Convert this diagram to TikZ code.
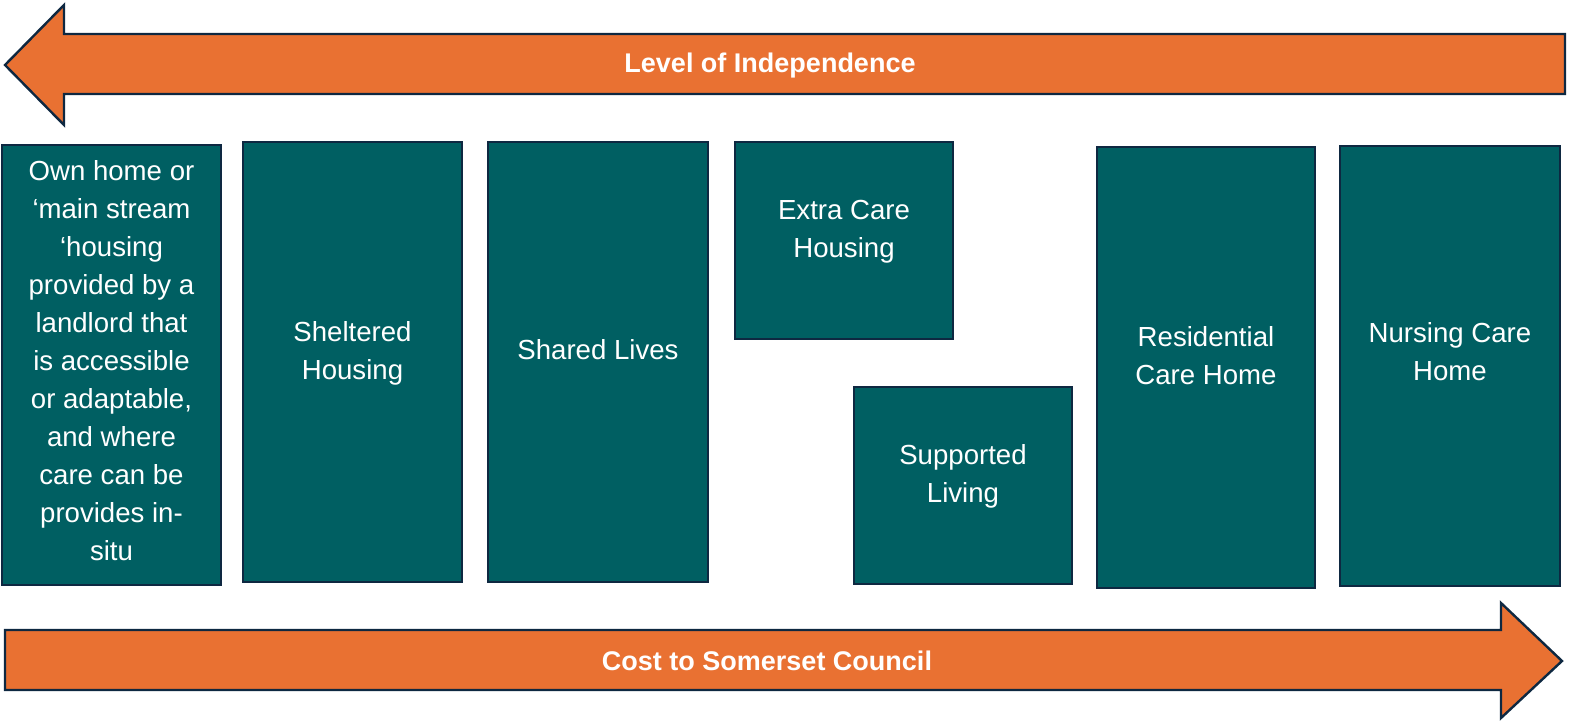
\documentclass[tikz,border=0pt]{standalone}
\usepackage{fontspec}
\setmainfont{Liberation Sans}
\definecolor{teal1}{HTML}{005F62}
\definecolor{orng}{HTML}{E97132}
\definecolor{edge}{HTML}{0E2841}
\begin{document}
\begin{tikzpicture}[x=0.5pt,y=-0.5pt,
  box/.style={draw=edge, fill=teal1, line width=1pt, inner sep=0pt},
  boxtext/.style={text=white, align=center, font=\fontsize{13.8}{19}\selectfont, inner sep=0pt},
  arrowshape/.style={draw=edge, fill=orng, line width=1.2pt, line join=miter},
  arrowtext/.style={text=white, font=\bfseries\fontsize{13.5}{16}\selectfont, inner sep=0pt}]
\useasboundingbox (0,0) rectangle (1570,721);
% top arrow (pointing left)
\draw[arrowshape] (5,65) -- (64,5) -- (64,34) -- (1565,34) -- (1565,94) -- (64,94) -- (64,125) -- cycle;
\node[arrowtext] (lvl) at (770,66) {Level of Independence};
% bottom arrow (pointing right)
\draw[arrowshape] (5,630) -- (1501,630) -- (1501,603) -- (1562,661) -- (1501,718) -- (1501,690) -- (5,690) -- cycle;
\node[arrowtext] (cost) at (767,661) {Cost to Somerset Council};
% boxes
\node[box, minimum width=109.5pt, minimum height=220pt] (b1) at (111.5,365) {};
\node[box, minimum width=109.5pt, minimum height=220pt] (b2) at (352.5,362) {};
\node[box, minimum width=110pt, minimum height=220pt] (b3) at (598,362) {};
\node[box, minimum width=109pt, minimum height=98.5pt] (b4) at (844,240.5) {};
\node[box, minimum width=109pt, minimum height=98.5pt] (b5) at (963,485.5) {};
\node[box, minimum width=109pt, minimum height=220.5pt] (b6) at (1206,367.5) {};
\node[box, minimum width=110pt, minimum height=220pt] (b7) at (1450,366) {};
% texts
\node[boxtext] (t1) at ([yshift=2pt]b1.center) {Own home or\\`main stream\\`housing\\provided by a\\landlord that\\is accessible\\or adaptable,\\and where\\care can be\\provides in-\\situ};
\node[boxtext] (t2) at ([yshift=4.5pt]b2.center) {Sheltered\\Housing};
\node[boxtext] (t3) at ([yshift=6pt]b3.center) {Shared Lives};
\node[boxtext] (t4) at ([yshift=4.5pt]b4.center) {Extra Care\\Housing};
\node[boxtext] (t5) at ([yshift=4.5pt]b5.center) {Supported\\Living};
\node[boxtext] (t6) at ([yshift=6pt]b6.center) {Residential\\Care Home};
\node[boxtext] (t7) at ([yshift=7pt]b7.center) {Nursing Care\\Home};
\end{tikzpicture}
\end{document}
